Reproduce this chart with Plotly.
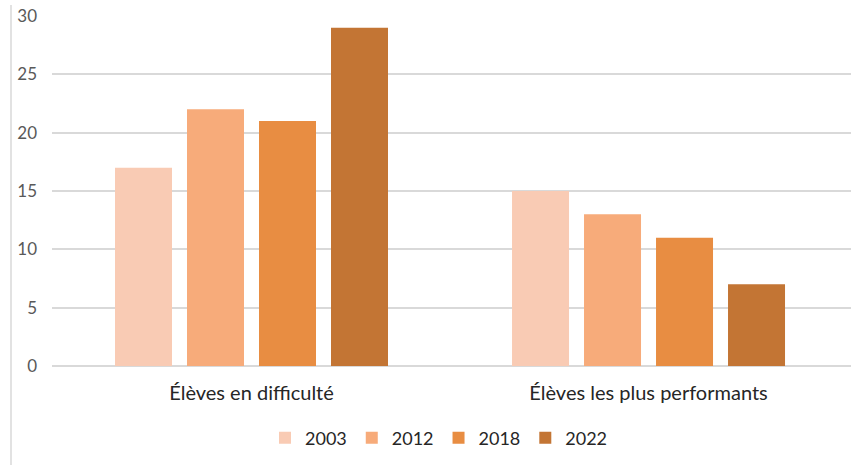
import plotly.graph_objects as go

categories = ["Élèves en difficulté", "Élèves les plus performants"]
years = ["2003", "2012", "2018", "2022"]
values = {
    "2003": [17, 15],
    "2012": [22, 13],
    "2018": [21, 11],
    "2022": [29, 7],
}
colors = {
    "2003": "#F9CBB4",
    "2012": "#F7AB7A",
    "2018": "#E88D42",
    "2022": "#C37534",
}

fig = go.Figure()
for y in years:
    fig.add_trace(go.Bar(name=y, x=categories, y=values[y],
                         marker=dict(color=colors[y], line=dict(width=0))))

W, H = 851, 467
L, R, T, B = 52, 0, 16, 101
pw, ph = W - L - R, H - T - B

fig.update_layout(
    width=W, height=H,
    margin=dict(l=L, r=R, t=T, b=B, autoexpand=False),
    paper_bgcolor="white", plot_bgcolor="white",
    barmode="group", bargap=0.2746, bargroupgap=0.2083,
    font=dict(family="Lato, 'Open Sans', sans-serif", color="#595959", size=14),
    legend=dict(orientation="h", x=(439 - L) / pw, xanchor="center",
                y=(366 - 438) / ph, yanchor="middle",
                font=dict(size=18, color="#262626"),
                itemwidth=30, traceorder="normal"),
    showlegend=True,
    xaxis=dict(showgrid=False, showline=False, ticks="",
               range=[-0.5025, 1.51],
               tickfont=dict(size=20, color="#262626"),
               ticklabelstandoff=13),
    yaxis=dict(range=[0, 30], dtick=5, showgrid=True, gridcolor="#D9D9D9",
               gridwidth=1.5, zeroline=True, zerolinecolor="#D9D9D9",
               zerolinewidth=1.5, showline=False, ticks="",
               tickfont=dict(size=17, color="#595959"),
               ticklabelstandoff=14),
    shapes=[dict(type="line", xref="paper", yref="paper",
                 x0=(11 - L) / pw, x1=(11 - L) / pw,
                 y0=(366 - 5) / ph, y1=(366 - 465) / ph,
                 line=dict(color="#D9D9D9", width=1.5))],
)

fig.write_html("out.html",
               config={"displayModeBar": False},
               post_script="document.body.style.margin='0';document.documentElement.style.overflow='hidden';")
